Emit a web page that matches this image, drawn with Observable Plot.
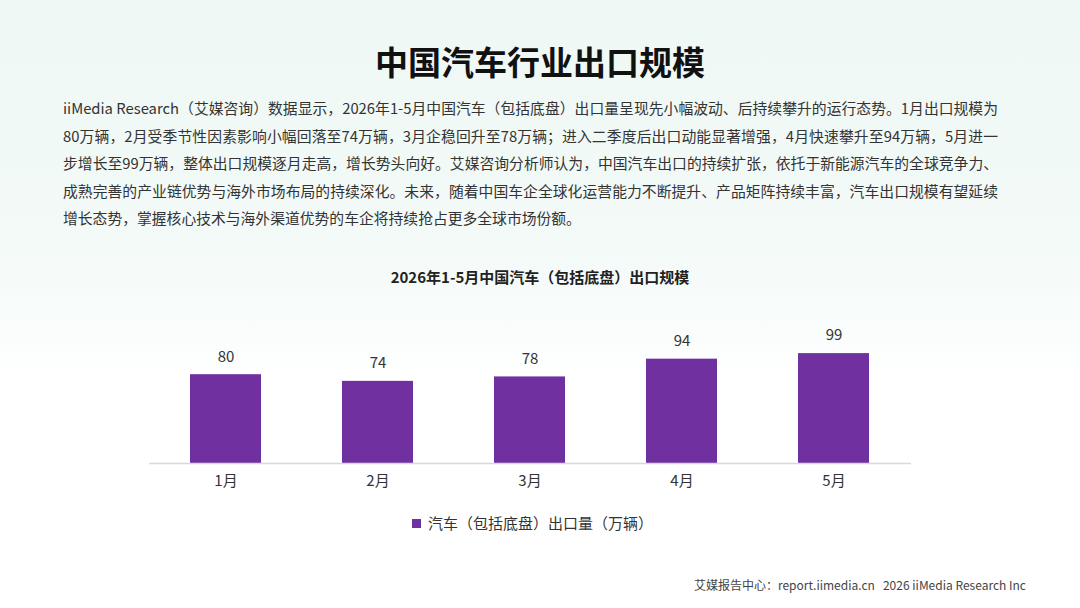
<!DOCTYPE html>
<html>
<head>
<meta charset="utf-8">
<script src="https://cdn.jsdelivr.net/npm/d3@7"></script>
<script src="https://cdn.jsdelivr.net/npm/@observablehq/plot@0.6"></script>
<style>
  html, body { margin: 0; padding: 0; }
  body {
    width: 1080px; height: 608px; overflow: hidden; position: relative;
    font-family: "Noto Sans CJK SC", "Noto Sans", sans-serif;
    background: linear-gradient(to bottom, #eef8f4 0%, #f3faf8 40%, #fbfdfd 56%, #ffffff 62%, #ffffff 100%);
  }
  .title { position: absolute; left: 0; width: 1080px; top: 40px; line-height: 42px; text-align: center;
    font-size: 33px; font-weight: bold; color: #111; }
  .para { position: absolute; left: 63px; width: 935px; top: 94px; font-size: 14.8px; color: #333; }
  .para div { line-height: 27.5px; height: 27.5px; text-align: justify; text-align-last: justify; white-space: nowrap; }
  .para div.last { text-align-last: left; }
  .ctitle { position: absolute; left: 0; width: 1080px; top: 266px; line-height: 22px; text-align: center;
    font-size: 15px; font-weight: bold; color: #222; }
  #chart { position: absolute; left: 0; top: 320px; }
  .legend { position: absolute; left: 412px; top: 513px; line-height: 20px; font-size: 15px; color: #333; display: flex; align-items: center; }
  .legend .sw { width: 9px; height: 9px; margin-right: 7px; }
  .footer { position: absolute; right: 54px; top: 577px; line-height: 16px; font-size: 12px; color: #444; white-space: pre; }
</style>
</head>
<body>
<div class="title">中国汽车行业出口规模</div>
<div class="para" id="para"></div>
<div class="ctitle" id="ctitle"></div>
<div id="chart"></div>
<div class="legend" id="legend"></div>
<div class="footer" id="footer"></div>
<script>
const months = ["1月", "2月", "3月", "4月", "5月"];
const values = [80, 74, 78, 94, 99];
const seriesName = "汽车（包括底盘）出口量（万辆）";
const chartTitle = "2026年1-5月中国汽车（包括底盘）出口规模";
const barColor = "#7030A0";
const paragraphLines = [
  "iiMedia Research（艾媒咨询）数据显示，2026年1-5月中国汽车（包括底盘）出口量呈现先小幅波动、后持续攀升的运行态势。1月出口规模为",
  "80万辆，2月受季节性因素影响小幅回落至74万辆，3月企稳回升至78万辆；进入二季度后出口动能显著增强，4月快速攀升至94万辆，5月进一",
  "步增长至99万辆，整体出口规模逐月走高，增长势头向好。艾媒咨询分析师认为，中国汽车出口的持续扩张，依托于新能源汽车的全球竞争力、",
  "成熟完善的产业链优势与海外市场布局的持续深化。未来，随着中国车企全球化运营能力不断提升、产品矩阵持续丰富，汽车出口规模有望延续",
  "增长态势，掌握核心技术与海外渠道优势的车企将持续抢占更多全球市场份额。"
];
const footerText = "艾媒报告中心：report.iimedia.cn   2026 iiMedia Research Inc";

const para = document.getElementById("para");
paragraphLines.forEach((t, i) => {
  const d = document.createElement("div");
  d.textContent = t;
  if (i === paragraphLines.length - 1) d.className = "last";
  para.appendChild(d);
});
document.getElementById("ctitle").textContent = chartTitle;
document.getElementById("footer").textContent = footerText;
const lg = document.getElementById("legend");
lg.innerHTML = `<span class="sw" style="background:${barColor}"></span><span>${seriesName}</span>`;

const data = months.map((m, i) => ({month: m, value: values[i]}));

const chart = Plot.plot({
  width: 1080,
  height: 190,
  marginLeft: 149,
  marginRight: 169,
  marginTop: 32,
  marginBottom: 47,
  style: {fontFamily: '"Noto Sans CJK SC", "Noto Sans", sans-serif', fontSize: "15px", color: "#333", background: "transparent", overflow: "visible"},
  x: {domain: months, paddingInner: 0.53, paddingOuter: 0.265, label: null},
  y: {domain: [0, 100], axis: null},
  marks: [
    Plot.barY(data, {x: "month", y: "value", fill: barColor}),
    Plot.ruleY([0], {stroke: "#d9d9d9", strokeWidth: 1.5}),
    Plot.text(data, {x: "month", y: "value", text: d => String(d.value), dy: -18, fontSize: 15, fill: "#333"}),
    Plot.axisX({tickSize: 0, tickPadding: 12, fontSize: 15, fill: "#333", label: null})
  ]
});
document.getElementById("chart").appendChild(chart);
</script>
</body>
</html>
